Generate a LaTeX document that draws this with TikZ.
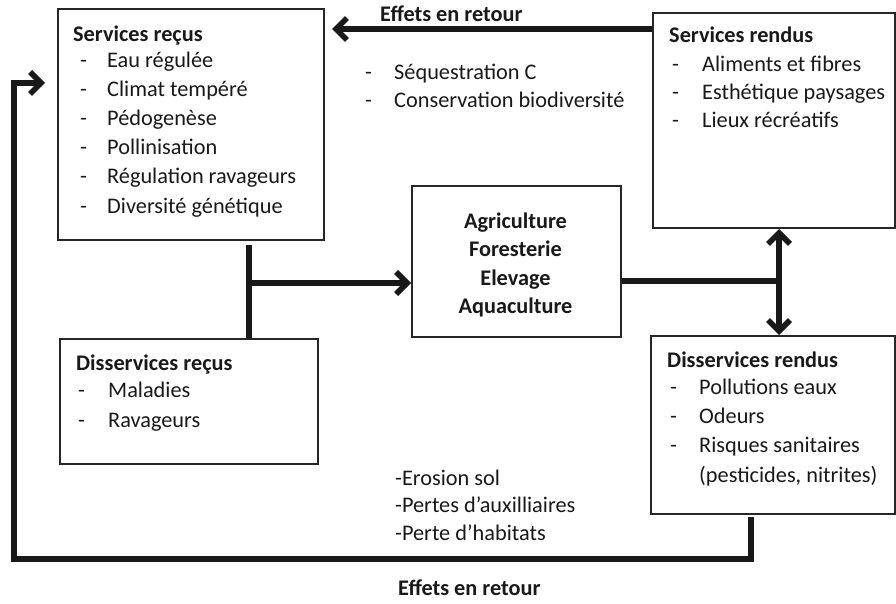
\documentclass[tikz,border=0pt]{standalone}
\usepackage{fontspec}
\setmainfont{Carlito}
\usetikzlibrary{arrows.meta}
\tikzset{
  box/.style={draw=black!85, line width=2pt, inner sep=0pt, anchor=north west, rectangle},
  txt/.style={inner sep=0pt, anchor=base west, text=black!90, font=\fontsize{22.3}{28}\selectfont},
  ctxt/.style={txt, anchor=base},
  conn/.style={line width=5.5pt, draw=black!90},
  tip/.style={-{Straight Barb[length=11pt,width=22pt]}},
  dtip/.style={{Straight Barb[length=11pt,width=22pt]}-{Straight Barb[length=11pt,width=22pt]}}
}
\begin{document}
\begin{tikzpicture}[x=1pt,y=-1pt]
\useasboundingbox (0,0) rectangle (896,604);
\fill[white] (0,0) rectangle (896,604);
% boxes
\node[box, minimum width=266pt, minimum height=231pt] (sr) at (57,8) {};
\node[box, minimum width=242pt, minimum height=215pt] (sren) at (652,12) {};
\node[box, minimum width=209pt, minimum height=151pt] (agri) at (411,185) {};
\node[box, minimum width=258pt, minimum height=125pt] (dr) at (59,338) {};
\node[box, minimum width=244pt, minimum height=178pt] (dren) at (650,335) {};
% Services reçus
\node[txt] (sr-t) at (73,42) {\textbf{Services reçus}};
\foreach \t [count=\i] in {Eau régulée, Climat tempéré, Pédogenèse, Pollinisation, Régulation ravageurs, Diversité génétique}{
  \node[txt] (sr-d\i) at (80,{39+29*\i}) {-};
  \node[txt] (sr-i\i) at (107,{39+29*\i}) {\t};
}
% Services rendus
\node[txt] (sren-t) at (669,43) {\textbf{Services rendus}};
\foreach \t [count=\i] in {Aliments et fibres, Esthétique paysages, Lieux récréatifs}{
  \node[txt] (sren-d\i) at (672,{44+28*\i}) {-};
  \node[txt] (sren-i\i) at (702,{44+28*\i}) {\t};
}
% Sequestration
\foreach \t [count=\i] in {Séquestration C, Conservation biodiversité}{
  \node[txt] (seq-d\i) at (365,{52+28*\i}) {-};
  \node[txt] (seq-i\i) at (394,{52+28*\i}) {\t};
}
% Agriculture
\node[ctxt] (ag1) at (515.5,228) {\textbf{Agriculture}};
\node[ctxt] (ag2) at (515.5,256) {\textbf{Foresterie}};
\node[ctxt] (ag3) at (515.5,285) {\textbf{Elevage}};
\node[ctxt] (ag4) at (515.5,313) {\textbf{Aquaculture}};
% Disservices reçus
\node[txt] (dr-t) at (76,370) {\textbf{Disservices reçus}};
\node[txt] (dr-d1) at (78,397) {-};
\node[txt] (dr-i1) at (108,397) {Maladies};
\node[txt] (dr-d2) at (78,427) {-};
\node[txt] (dr-i2) at (108,427) {Ravageurs};
% Disservices rendus
\node[txt] (dren-t) at (667,367) {\textbf{Disservices rendus}};
\foreach \t [count=\i] in {Pollutions eaux, Odeurs, Risques sanitaires}{
  \node[txt] (dren-d\i) at (670,{365+29*\i}) {-};
  \node[txt] (dren-i\i) at (699,{365+29*\i}) {\t};
}
\node[txt] (dren-i4) at (699,482) {(pesticides, nitrites)};
% Erosion
\node[txt] (er1) at (395,485) {-Erosion sol};
\node[txt] (er2) at (395,512) {-Pertes d’auxilliaires};
\node[txt] (er3) at (395,540) {-Perte d’habitats};
% labels
\node[txt] (eff1) at (380,22) {\textbf{Effets en retour}};
\node[txt] (eff2) at (398,595) {\textbf{Effets en retour}};
% connectors
\draw[conn, tip, shorten >=7pt] (sren.west |- 0,29) -- (sr.east |- 0,29);
\coordinate (lb) at (751,559);
\coordinate (lbl) at (14,559);
\coordinate (lt) at (14,83);
\draw[conn, tip, shorten >=12pt] (751,0 |- dren.south) ++(0,2) -- (lb) -- (lbl) -- (lt) -- (sr.west |- lt);
\draw[conn] (249,0 |- sr.south) ++(0,4) -- (249,0 |- dr.north);
\coordinate (jn) at (249,283);
\draw[conn, tip] (jn) -- (agri.west |- jn);
\coordinate (jr) at (779,281);
\draw[conn] (agri.east |- jr) -- (jr);
\draw[conn, dtip] (779,0 |- sren.south) -- (779,0 |- dren.north);
\end{tikzpicture}
\end{document}
